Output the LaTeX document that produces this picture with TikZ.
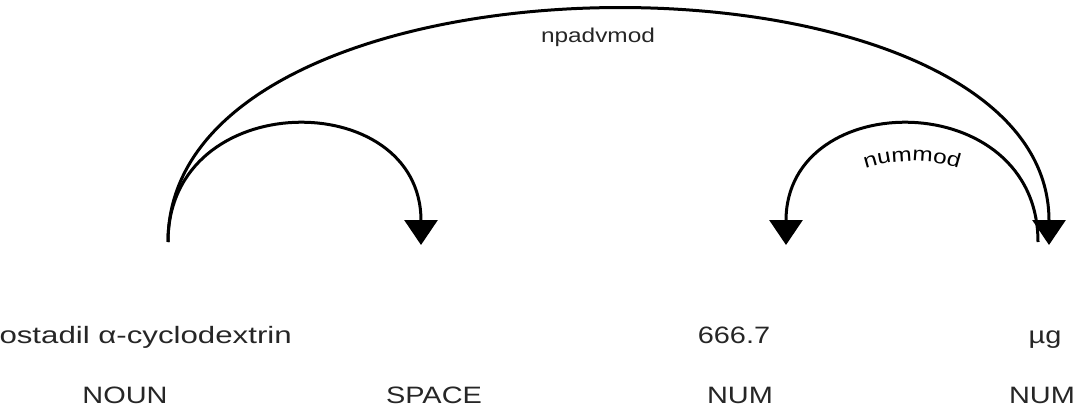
\documentclass[tikz,border=0pt]{standalone}
\usepackage{fontspec}
\setmainfont{Liberation Sans}[FakeStretch=1.22]
\usetikzlibrary{arrows.meta,decorations.text}
\newcommand\lblfont{\fontsize{20}{24}\selectfont}
\begin{document}
\begin{tikzpicture}[x=1pt,y=-1pt,
  word/.style={font=\fontsize{23.7}{28}\selectfont, inner sep=0pt, text=black!85},
  deplabel/.style={font=\lblfont, inner sep=0pt, text=black!85},
  deparc/.style={line width=3pt, draw=black, -{Triangle[width=33pt,length=25pt]}}]
\useasboundingbox (0,0) rectangle (1087,407);
\clip (0,0) rectangle (1087,407);
% words
\node[word, anchor=base east, xscale=1.08] (w1) at (292,343) {ostadil α-cyclodextrin};
\node[word, anchor=base] (w3) at (734,343) {666.7};
\node[word, anchor=base] (w4) at (1045,343) {µg};
% tags
\node[word, anchor=base] (t1) at (125,403) {NOUN};
\node[word, anchor=base] (t2) at (434,403) {SPACE};
\node[word, anchor=base] (t3) at (740,403) {NUM};
\node[word, anchor=base] (t4) at (1042,403) {NUM};
% arc end points
\coordinate (s1) at (168,242);
\coordinate (e1) at (421,245);
\coordinate (e2) at (1049,245);
\coordinate (s3) at (1038,242);
\coordinate (e3) at (786,245);
% arcs
\draw[deparc] (s1) .. controls (168,86) and (421,86) .. (e1);
\draw[deparc] (s1) .. controls (168,-67) and (1049,-67) .. (e2);
\draw[deparc] (s3) .. controls (1038,86) and (786,86) .. (e3);
% labels
\node[deplabel, anchor=base] (l2) at (598,42) {npadvmod};
\path[decorate, decoration={text along path, text={|\lblfont|nummod}, text align=center}]
  (786,278) .. controls (786,122) and (1038,122) .. (1038,278);
\end{tikzpicture}
\end{document}
